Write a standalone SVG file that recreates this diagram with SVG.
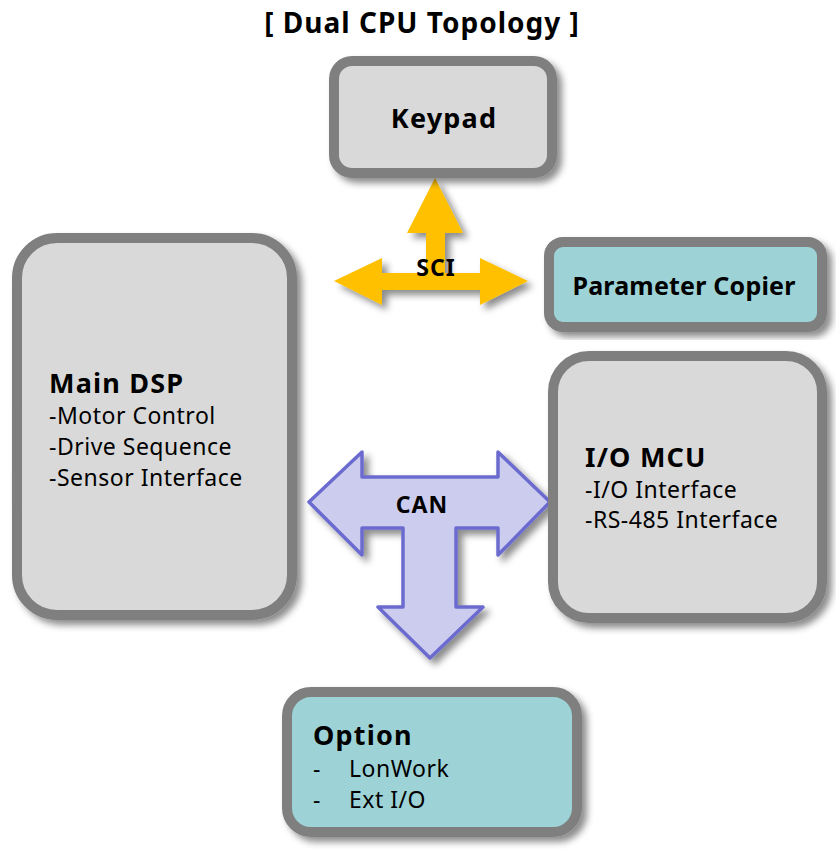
<svg xmlns="http://www.w3.org/2000/svg" width="836" height="850" viewBox="0 0 836 850">
  <defs>
    <filter id="shadow" x="-10%" y="-10%" width="125%" height="125%">
      <feDropShadow dx="5" dy="5" stdDeviation="3.5" flood-color="#000" flood-opacity="0.45"/>
    </filter>
    <style>
      .box { fill: #d9d9d9; stroke: #7f7f7f; stroke-width: 10; filter: url(#shadow); }
      .teal { fill: #9dd3d6; }
      .title { font-family: "Noto Sans", "Open Sans", sans-serif; font-weight: bold; font-size: 28px; letter-spacing: 1px; fill: #000; }
      .head { font-family: "Noto Sans", "Open Sans", sans-serif; font-weight: bold; font-size: 27px; letter-spacing: 1.2px; fill: #000; }
      .head-sm { font-family: "Noto Sans", "Open Sans", sans-serif; font-weight: bold; font-size: 25px; letter-spacing: 0.2px; fill: #000; }
      .body { font-family: "Noto Sans", "Open Sans", sans-serif; font-size: 23px; letter-spacing: 0.5px; fill: #000; }
      .sci { fill: #ffc000; filter: url(#shadow); }
      .can { fill: #cccdee; stroke: #6b6bcf; stroke-width: 3.5; stroke-linejoin: round; filter: url(#shadow); }
      .lbl { font-family: "Noto Sans", "Open Sans", sans-serif; font-weight: bold; font-size: 23px; letter-spacing: 1px; fill: #000; text-anchor: middle; }
    </style>
  </defs>

  <rect width="836" height="850" fill="#fff"/>

  <text class="title" x="422" y="33" text-anchor="middle">[ Dual CPU Topology ]</text>

  <!-- bus connectors -->
  <g id="connectors">
    <g id="sci-bus">
      <path class="sci" d="M435,178 L463,233 L445,233 L445,273 L480,273 L480,258 L528,281 L480,305 L480,290 L382,290 L382,305 L334,281 L382,258 L382,273 L426,273 L426,233 L407,233 Z"/>
      <text class="lbl" x="436" y="276">SCI</text>
    </g>
    <g id="can-bus">
      <path class="can" d="M309,502 L362,452 L362,477 L498,477 L498,452 L550,502 L498,555 L498,528 L456,528 L456,607 L483,607 L430,658 L378,607 L403,607 L403,528 L362,528 L362,555 Z"/>
      <text class="lbl" x="422" y="513">CAN</text>
    </g>
  </g>

  <g id="keypad">
    <rect class="box" x="334" y="61" width="218" height="112" rx="18"/>
    <text class="head" x="444" y="128" text-anchor="middle">Keypad</text>
  </g>

  <g id="param-copier">
    <rect class="box teal" x="549" y="242" width="273" height="85" rx="14"/>
    <text class="head-sm" x="684" y="295" text-anchor="middle">Parameter Copier</text>
  </g>

  <g id="main-dsp">
    <rect class="box" x="17" y="238" width="275" height="377" rx="40"/>
    <text class="head" x="49" y="393">Main DSP</text>
    <text class="body" x="49" y="424">-Motor Control</text>
    <text class="body" x="49" y="455">-Drive Sequence</text>
    <text class="body" x="49" y="486">-Sensor Interface</text>
  </g>

  <g id="io-mcu">
    <rect class="box" x="553" y="356" width="269" height="262" rx="36"/>
    <text class="head" x="585" y="467">I/O MCU</text>
    <text class="body" x="585" y="498">-I/O Interface</text>
    <text class="body" x="585" y="528">-RS-485 Interface</text>
  </g>

  <g id="option">
    <rect class="box teal" x="287" y="692" width="290" height="140" rx="24"/>
    <text class="head" x="313" y="745">Option</text>
    <text class="body" x="313" y="777">-</text>
    <text class="body" x="349" y="777">LonWork</text>
    <text class="body" x="313" y="808">-</text>
    <text class="body" x="349" y="808">Ext I/O</text>
  </g>
</svg>
